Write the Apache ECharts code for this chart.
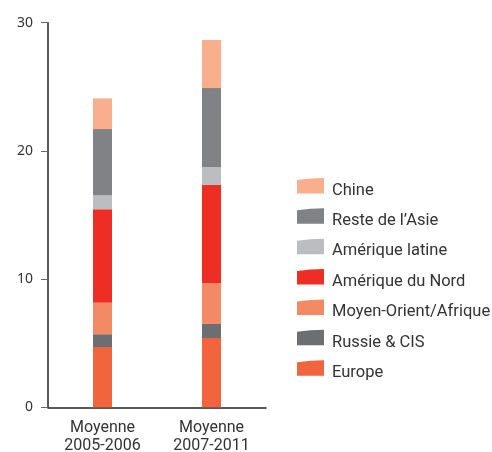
<!DOCTYPE html>
<html>
<head>
<meta charset="utf-8">
<script src="https://cdn.jsdelivr.net/npm/echarts@6/dist/echarts.min.js"></script>
<style>
  html, body { margin: 0; padding: 0; background: #fff; }
  #chart { width: 492px; height: 452px; }
</style>
</head>
<body>
<div id="chart"></div>
<script>
// Periods on the x axis
const categories = ['Moyenne\n2005-2006', 'Moyenne\n2007-2011'];

// Stacked values per region (bottom to top)
const europe = [4.7, 5.4];
const russie = [1.0, 1.1];
const moyenOrient = [2.45, 3.2];
const ameriqueNord = [7.3, 7.65];
const ameriqueLatine = [1.1, 1.4];
const resteAsie = [5.15, 6.15];
const chine = [2.4, 3.75];

const yTicks = [0, 10, 20, 30];

const seriesDefs = [
  { name: 'Europe', data: europe, color: '#F0643E' },
  { name: 'Russie & CIS', data: russie, color: '#6D6E72' },
  { name: 'Moyen-Orient/Afrique', data: moyenOrient, color: '#F38A66' },
  { name: 'Amérique du Nord', data: ameriqueNord, color: '#EE2E24' },
  { name: 'Amérique latine', data: ameriqueLatine, color: '#BCBDC0' },
  { name: 'Reste de l\u2019Asie', data: resteAsie, color: '#808285' },
  { name: 'Chine', data: chine, color: '#F9AE8E' }
];

const tickFont = 'Noto Sans';
const textFont = 'Roboto';
// Swatch with a slightly curved top edge; the tiny tail below it
// widens the symbol box so the label sits a little lower than the swatch centre.
const iconPath = 'path://M0,2 Q14,0 28,0 L28,16 L0,16 Z M0,26 L0.1,26 L0,26.1 Z';

const chart = echarts.init(document.getElementById('chart'));
chart.setOption({
  animation: false,
  textStyle: { fontFamily: textFont },
  grid: {
    left: 48, top: 22.7, width: 218, height: 384.6,
    containLabel: false, outerBoundsMode: 'none'
  },
  legend: {
    orient: 'vertical',
    left: 297,
    top: 178,
    padding: 0,
    itemWidth: 27,
    itemHeight: 26,
    itemGap: 5.2,
    icon: iconPath,
    data: seriesDefs.map(s => s.name).reverse(),
    textStyle: {
      fontSize: 16.5, color: '#333', fontFamily: textFont,
      padding: [0, 0, 0, 3]
    }
  },
  xAxis: {
    type: 'category',
    data: categories,
    axisLine: { lineStyle: { color: '#222', width: 1.5 } },
    axisTick: { show: false },
    axisLabel: { fontSize: 16, color: '#333', lineHeight: 18.5, margin: 11, fontFamily: textFont }
  },
  yAxis: {
    type: 'value',
    min: yTicks[0],
    max: yTicks[yTicks.length - 1],
    interval: 10,
    axisLine: { show: true, lineStyle: { color: '#222', width: 1.5 } },
    axisTick: { show: true, length: 7, lineStyle: { color: '#666', width: 1 } },
    splitLine: { show: false },
    axisLabel: { fontSize: 14, color: '#333', margin: 15, fontFamily: tickFont }
  },
  series: seriesDefs.map(s => ({
    name: s.name,
    type: 'bar',
    stack: 'total',
    data: s.data,
    barWidth: 19,
    itemStyle: { color: s.color },
    emphasis: { disabled: true }
  }))
});
</script>
</body>
</html>
